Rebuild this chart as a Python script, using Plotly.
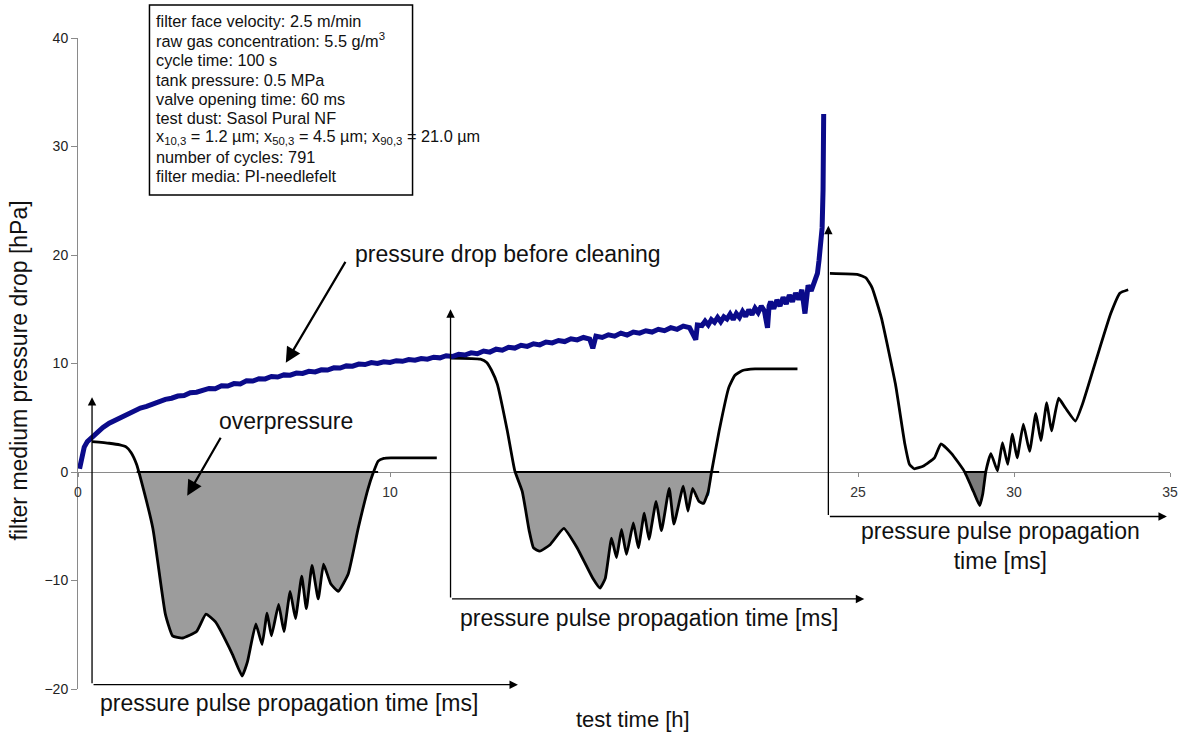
import numpy as np
import plotly.graph_objects as go

# ---------------- data ----------------
test_time = [0.05, 0.1, 0.15, 0.2, 0.3, 0.45, 0.6, 0.8, 1.0, 1.2, 1.4, 1.6, 1.8, 2.0, 2.2, 2.4, 2.6, 2.8,
             3.0, 3.2, 3.4, 3.6, 3.8, 4.0,
             4.2, 4.4, 4.6, 4.8, 5.0, 5.2, 5.4, 5.6, 5.8, 6.0, 6.2, 6.4, 6.6, 6.8, 7.0, 7.2, 7.4, 7.6, 7.8,
             8.0, 8.2, 8.4, 8.6, 8.8, 9.0, 9.2, 9.4, 9.6, 9.8, 10.0, 10.2, 10.4, 10.6, 10.8, 11.0, 11.2,
             11.4, 11.6, 11.8, 12.0, 12.2, 12.4, 12.6, 12.8, 13.0, 13.2, 13.4, 13.6, 13.8, 14.0, 14.2,
             14.4, 14.6, 14.8, 15.0, 15.2, 15.4, 15.6, 15.8, 16.0, 16.2, 16.4, 16.5, 16.6, 16.8, 17.0,
             17.2, 17.4, 17.6, 17.8, 18.0, 18.2, 18.4, 18.6, 18.8, 19.0, 19.2, 19.4, 19.6, 19.8, 19.85,
             20.0, 20.1, 20.2, 20.3, 20.4, 20.5, 20.6, 20.7, 20.8, 20.9, 21.0, 21.1, 21.2, 21.3, 21.4,
             21.5, 21.6, 21.7, 21.8, 21.9, 22.0, 22.1, 22.15, 22.2, 22.3, 22.4, 22.5, 22.6, 22.7, 22.8,
             22.9, 23.0, 23.1, 23.2, 23.3, 23.35, 23.4, 23.5, 23.6, 23.7, 23.75, 23.8, 23.85, 23.88, 23.9]
dp_before_cleaning = [0.3, 1.2, 1.9, 2.3, 2.8, 3.2, 3.7, 4.1, 4.5, 4.8, 5.1, 5.35, 5.65, 5.9, 6.05, 6.3, 6.45,
                      6.7, 6.8, 7.0, 7.05, 7.3, 7.35, 7.55,
                      7.70, 7.68, 7.95, 7.92, 8.15, 8.12, 8.40, 8.38, 8.60, 8.58, 8.80, 8.75, 8.95, 8.92,
                      9.12, 9.08, 9.28, 9.22, 9.42, 9.40, 9.60, 9.58, 9.78, 9.75, 9.95, 9.90, 10.08, 10.00,
                      10.16, 10.10, 10.26, 10.20, 10.36, 10.30, 10.46, 10.40, 10.58, 10.52, 10.72, 10.64,
                      10.85, 10.78, 10.98, 10.90, 11.15, 11.05, 11.32, 11.22, 11.50, 11.42, 11.68, 11.58,
                      11.82, 11.72, 11.98, 11.90, 12.12, 12.02, 12.28, 12.18, 12.40, 12.26, 11.4, 12.52,
                      12.40, 12.65, 12.52, 12.80, 12.62, 12.90, 12.80, 13.02, 12.90, 13.15, 13.02, 13.30,
                      13.15, 13.45, 13.30, 12.2, 13.55, 13.5,
                      13.9, 13.55, 14.05, 13.8, 14.25, 13.85, 14.3, 14.1, 14.55, 14.05, 14.6, 14.25, 14.8,
                      14.35, 14.95, 14.5, 15.1, 14.7, 15.3, 14.85, 13.3, 15.3, 15.7, 15.05, 15.85, 15.3,
                      16.1, 15.5, 16.3, 15.7, 16.5, 15.9, 16.8, 14.6, 16.4, 17.2, 16.7, 17.5, 18.3, 19.5,
                      21.5, 22.5, 26.0, 33.0]

# pulse propagation insets (drawn in the main coordinate frame)
inset1_t = [0.45, 1.0, 1.34, 1.55, 1.7, 1.88, 1.97, 2.4, 2.8, 3.03, 3.35, 3.8, 4.1, 4.4, 4.95, 5.26, 5.43,
            5.7, 5.9, 6.06, 6.2, 6.43, 6.6, 6.8, 6.97, 7.17, 7.32, 7.5, 7.7, 7.87, 8.1, 8.34, 8.66, 8.98,
            9.3, 9.46, 9.62, 9.8, 10.03, 11.5]
inset1_p = [2.8, 2.65, 2.5, 2.3, 1.8, 0.7, -0.2, -5.2, -13.1, -15.1, -15.3, -14.7, -13.1, -13.8, -16.8,
            -18.8, -17.5, -14.0, -15.9, -13.0, -15.1, -12.2, -14.7, -11.0, -13.5, -9.6, -12.6, -8.6, -11.7,
            -8.5, -10.3, -11.0, -9.4, -5.2, -1.5, -0.1, 1.0, 1.25, 1.3, 1.3]

inset2_t = [11.94, 12.9, 13.1, 13.25, 13.44, 13.76, 14.0, 14.24, 14.46, 14.6, 14.8, 15.13, 15.57, 16.0,
            16.5, 16.73, 16.9, 17.1, 17.26, 17.42, 17.58, 17.8, 17.96, 18.15, 18.3, 18.53, 18.7, 18.95,
            19.1, 19.4, 19.55, 19.7, 19.9, 20.05, 20.2, 20.3, 20.55, 20.86, 21.05, 21.3, 21.7, 23.06]
inset2_p = [10.5, 10.4, 10.1, 9.4, 8.1, 3.8, 0.1, -1.8, -5.4, -7.0, -7.3, -6.7, -5.2, -7.0, -9.8, -10.7,
            -9.8, -6.1, -7.9, -5.3, -7.6, -4.7, -7.0, -3.8, -6.2, -2.7, -5.4, -1.5, -4.8, -1.3, -3.6, -1.5,
            -2.7, -2.9, -1.8, -0.1, 3.8, 7.8, 8.9, 9.35, 9.5, 9.5]

inset3_t = [24.1, 25.0, 25.25, 25.45, 25.75, 26.2, 26.5, 26.65, 26.8, 27.1, 27.45, 27.66, 28.0, 28.4, 28.7,
            28.9, 29.0, 29.1, 29.26, 29.47, 29.63, 29.8, 29.95, 30.1, 30.3, 30.5, 30.7, 30.86, 31.05, 31.2,
            31.43, 31.65, 31.97, 32.2, 32.65, 33.1, 33.4, 33.66]
inset3_p = [18.3, 18.2, 17.9, 17.0, 14.2, 8.1, 2.6, 0.7, 0.3, 0.55, 1.3, 2.6, 1.7, 0.1, -1.8, -3.1, -2.0,
            0.1, 1.7, 0.1, 2.7, 0.7, 3.5, 1.3, 4.4, 1.9, 5.4, 2.9, 6.4, 3.8, 6.8, 5.9, 4.7, 6.3, 10.5, 14.6,
            16.5, 16.8]

x_ticks = [0, 5, 10, 15, 20, 25, 30, 35]
y_ticks = [-20, -10, 0, 10, 20, 30, 40]

info_lines = [
    "filter face velocity: 2.5 m/min",
    "raw gas concentration: 5.5 g/m<sup>3</sup>",
    "cycle time: 100 s",
    "tank pressure: 0.5 MPa",
    "valve opening time: 60 ms",
    "test dust: Sasol Pural NF",
    "x<sub>10,3</sub> = 1.2 µm; x<sub>50,3</sub> = 4.5 µm; x<sub>90,3</sub> = 21.0 µm",
    "number of cycles: 791",
    "filter media: PI-needlefelt",
]

# ---------------- figure ----------------
FONT = "Liberation Sans, Arial, sans-serif"
W, H = 1188, 733
ML, MR, MT, MB = 78, 10, 38, 44
PW, PH = W - ML - MR, H - MT - MB


def px_x(px):
    return (px - ML) / PW


def px_y(py):
    return (H - MB - py) / PH


fig = go.Figure()


def add_inset(t, p, fillcol):
    t = np.asarray(t, dtype=float)
    p = np.asarray(p, dtype=float)
    fig.add_trace(go.Scatter(x=t, y=np.minimum(p, 0), mode="lines", fill="tozeroy",
                             fillcolor=fillcol, line=dict(width=0), hoverinfo="skip",
                             showlegend=False))
    neg = np.where(p < 0)[0]
    fig.add_trace(go.Scatter(x=[t[neg[0] - 1], t[neg[-1] + 1]], y=[0, 0], mode="lines",
                             line=dict(color="black", width=2), hoverinfo="skip",
                             showlegend=False))
    fig.add_trace(go.Scatter(x=t, y=p, mode="lines",
                             line=dict(color="black", width=2.8, shape="spline", smoothing=0.4),
                             hoverinfo="skip", showlegend=False))


add_inset(inset1_t, inset1_p, "#9c9c9c")
add_inset(inset2_t, inset2_p, "#9c9c9c")
add_inset(inset3_t, inset3_p, "#7c7c7c")

fig.add_trace(go.Scatter(x=test_time, y=dp_before_cleaning, mode="lines",
                         line=dict(color="#0b0b8a", width=5), showlegend=False))

# inset axes (arrows) in data coordinates: (tail_x, tail_y, head_x, head_y)
inset_axes = [
    (0.45, -19.6, 0.45, 6.9), (0.45, -19.6, 14.1, -19.6),
    (11.94, -11.7, 11.94, 15.0), (11.94, -11.7, 25.2, -11.7),
    (24.05, -4.1, 24.05, 22.7), (24.05, -4.1, 34.9, -4.1),
]
annotations = []
for ax_, ay_, x_, y_ in inset_axes:
    annotations.append(dict(x=x_, y=y_, ax=ax_, ay=ay_, xref="x", yref="y", axref="x", ayref="y",
                            text="", showarrow=True, arrowhead=2, arrowsize=1.3, arrowwidth=1.3,
                            arrowcolor="black"))

LBL = dict(family=FONT, size=23, color="#111")
annotations += [
    dict(x=6.75, y=px_y(703), xref="x", yref="paper", text="pressure pulse propagation time [ms]",
         showarrow=False, xanchor="center", yanchor="middle", font=LBL),
    dict(x=18.3, y=-13.45, xref="x", yref="y", text="pressure pulse propagation time [ms]",
         showarrow=False, xanchor="center", yanchor="middle", font=LBL),
    dict(x=29.56, y=-6.8, xref="x", yref="y", text="pressure pulse propagation<br>time [ms]",
         showarrow=False, xanchor="center", yanchor="middle", font=LBL),
    # labelled arrows
    dict(x=6.66, y=10.06, ax=8.6, ay=19.5, xref="x", yref="y", axref="x", ayref="y", text="",
         showarrow=True, arrowhead=2, arrowsize=1.4, arrowwidth=2.2, arrowcolor="black"),
    dict(x=8.82, y=20.1, xref="x", yref="y", text="pressure drop before cleaning", showarrow=False,
         xanchor="left", yanchor="middle", font=LBL),
    dict(x=3.5, y=-2.2, ax=4.6, ay=3.3, xref="x", yref="y", axref="x", ayref="y", text="",
         showarrow=True, arrowhead=2, arrowsize=1.4, arrowwidth=2.2, arrowcolor="black"),
    dict(x=6.66, y=4.7, xref="x", yref="y", text="overpressure", showarrow=False,
         xanchor="center", yanchor="middle", font=LBL),
    # axis titles
    dict(x=px_x(637), y=px_y(719), xref="paper", yref="paper", text="test time [h]", showarrow=False,
         xanchor="center", yanchor="middle", font=dict(family=FONT, size=22, color="#111")),
    dict(x=px_x(19), y=px_y(370), xref="paper", yref="paper", text="filter medium pressure drop [hPa]",
         showarrow=False, textangle=-90, xanchor="center", yanchor="middle",
         font=dict(family=FONT, size=23, color="#111")),
]

# info box lines
line_centres = [21, 40.5, 60, 79.5, 99, 118, 137, 157, 176]
for txt, cy in zip(info_lines, line_centres):
    annotations.append(dict(x=px_x(155), y=px_y(cy), xref="paper", yref="paper", text=txt,
                            showarrow=False, xanchor="left", yanchor="middle",
                            font=dict(family=FONT, size=16.3, color="#111")))

fig.update_layout(
    width=W, height=H,
    margin=dict(l=ML, r=MR, t=MT, b=MB),
    plot_bgcolor="white", paper_bgcolor="white",
    font=dict(family=FONT, color="#222"),
    showlegend=False,
    xaxis=dict(range=[0, 35], tickvals=x_ticks, anchor="free", position=1 / 3, showgrid=False,
               zeroline=False, showline=True, linecolor="#8a8a8a", linewidth=1, ticks="outside",
               ticklen=4, tickcolor="#8a8a8a", tickfont=dict(size=14, color="#333"),
               ticklabelstandoff=3, layer="below traces", fixedrange=True),
    yaxis=dict(range=[-20, 40], tickvals=y_ticks, showgrid=False, zeroline=False, showline=True,
               linecolor="#8a8a8a", linewidth=1, ticks="outside", ticklen=6, tickcolor="#8a8a8a",
               tickfont=dict(size=14, color="#222"), layer="below traces", fixedrange=True),
    shapes=[dict(type="rect", xref="paper", yref="paper", x0=px_x(150), x1=px_x(415), y0=px_y(195),
                 y1=px_y(5), line=dict(color="black", width=1.5), fillcolor="rgba(0,0,0,0)")],
    annotations=annotations,
)

fig.write_html("out.html")
